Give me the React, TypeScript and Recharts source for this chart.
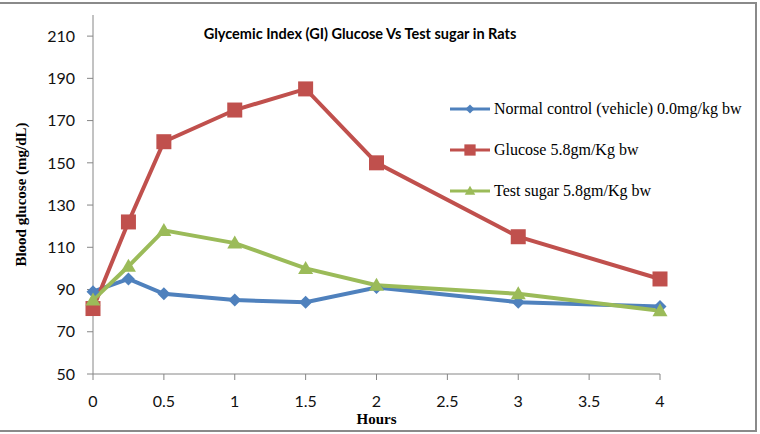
import React from 'react';
import { LineChart, Line, XAxis, YAxis, Legend } from 'recharts';

const hours = [0, 0.25, 0.5, 1, 1.5, 2, 3, 4];
const normalControl = [89, 95, 88, 85, 84, 91, 84, 82];
const glucose = [81, 122, 160, 175, 185, 150, 115, 95];
const testSugar = [85, 101, 118, 112, 100, 92, 88, 80];
const xTicks = [0, 0.5, 1, 1.5, 2, 2.5, 3, 3.5, 4];
const yTicks = [50, 70, 90, 110, 130, 150, 170, 190, 210];
const seriesNames = [
  'Normal control (vehicle) 0.0mg/kg bw',
  'Glucose 5.8gm/Kg bw',
  'Test sugar 5.8gm/Kg bw',
];
const chartTitle = 'Glycemic Index (GI) Glucose Vs Test sugar in Rats';
const xLabel = 'Hours';
const yLabel = 'Blood glucose (mg/dL)';

const data = hours.map((h, i) => ({
  hours: h,
  normal: normalControl[i],
  glucose: glucose[i],
  test: testSugar[i],
}));

const BLUE = '#4F81BD';
const RED = '#C0504D';
const GREEN = '#9BBB59';
const AXIS = '#868686';

const Diamond = ({ cx, cy, color }: any) => {
  const r = 6.5;
  return <path d={`M${cx},${cy - r}L${cx + r},${cy}L${cx},${cy + r}L${cx - r},${cy}Z`} fill={color} />;
};
const Square = ({ cx, cy, color }: any) => {
  const s = 7.5;
  return <rect x={cx - s} y={cy - s} width={2 * s} height={2 * s} fill={color} />;
};
const Triangle = ({ cx, cy, color }: any) => (
  <path d={`M${cx},${cy - 7.5}L${cx + 7.5},${cy + 5.5}L${cx - 7.5},${cy + 5.5}Z`} fill={color} />
);

const series = [
  { key: 'normal', name: seriesNames[0], color: BLUE, Shape: Diamond, legendScale: 0.7 },
  { key: 'glucose', name: seriesNames[1], color: RED, Shape: Square, legendScale: 0.75 },
  { key: 'test', name: seriesNames[2], color: GREEN, Shape: Triangle, legendScale: 0.7 },
];

const renderLegend = () => (
  <div style={{ fontFamily: '"Liberation Serif", "Times New Roman", serif', fontSize: 16, color: '#000' }}>
    {series.map((s) => (
      <div key={s.key} style={{ display: 'flex', alignItems: 'center', height: 41 }}>
        <svg width={40} height={16} style={{ display: 'block' }}>
          <line x1={0} y1={8} x2={40} y2={8} stroke={s.color} strokeWidth={3} />
          <g transform={`translate(20 8) scale(${s.legendScale}) translate(-20 -8)`}>
            <s.Shape cx={20} cy={8} color={s.color} />
          </g>
        </svg>
        <span style={{ marginLeft: 4, whiteSpace: 'nowrap' }}>{s.name}</span>
      </div>
    ))}
  </div>
);

export default function App() {
  return (
    <div style={{ position: 'absolute', left: 0, top: 0, width: 760, height: 434, background: '#fff' }}>
      <div
        style={{
          position: 'absolute',
          left: 0,
          top: 2,
          width: 755,
          height: 426,
          borderTop: '2px solid #8a8a8a',
          borderRight: '2px solid #8a8a8a',
          borderBottom: '2px solid #8a8a8a',
        }}
      />
      <LineChart width={760} height={434} data={data} margin={{ top: 15, right: 100, bottom: 0, left: 0 }}>
        <XAxis
          dataKey="hours"
          type="number"
          domain={[0, 4]}
          ticks={xTicks}
          height={60}
          stroke={AXIS}
          tickSize={6}
          tickMargin={16}
          tick={{ fill: '#111', fontSize: 16, fontFamily: 'Lato, "Open Sans", sans-serif' }}
          label={{
            content: (p: any) => {
              const vb = p.viewBox || { x: 93, width: 567, y: 374 };
              return (
                <text
                  x={vb.x + vb.width / 2}
                  y={424}
                  textAnchor="middle"
                  fontFamily='"Liberation Serif", "Times New Roman", serif'
                  fontWeight="bold"
                  fontSize={15}
                  fill="#000"
                >
                  {xLabel}
                </text>
              );
            },
          }}
        />
        <YAxis
          type="number"
          domain={[50, 220]}
          ticks={yTicks}
          width={93}
          stroke={AXIS}
          tickSize={6}
          tickMargin={12}
          tick={{ fill: '#111', fontSize: 16, fontFamily: 'Lato, "Open Sans", sans-serif' }}
          label={{
            content: (p: any) => {
              const vb = p.viewBox || { y: 15, height: 359 };
              const cy = vb.y + vb.height / 2;
              return (
                <text
                  x={26}
                  y={cy}
                  transform={`rotate(-90 26 ${cy})`}
                  textAnchor="middle"
                  fontFamily='"Liberation Serif", "Times New Roman", serif'
                  fontWeight="bold"
                  fontSize={15}
                  fill="#000"
                >
                  {yLabel}
                </text>
              );
            },
          }}
        />
        <Legend
          layout="vertical"
          align="center"
          verticalAlign="middle"
          content={renderLegend}
          wrapperStyle={{ left: 450, top: 88, width: 310 }}
        />
        {series.map((s) => (
          <Line
            key={s.key}
            type="linear"
            dataKey={s.key}
            name={s.name}
            stroke={s.color}
            strokeWidth={4}
            isAnimationActive={false}
            dot={(props: any) => <s.Shape key={`${s.key}-${props.index}`} cx={props.cx} cy={props.cy} color={s.color} />}
            activeDot={false}
          />
        ))}
      </LineChart>
      <div
        style={{
          position: 'absolute',
          left: 0,
          width: 720,
          top: 25,
          textAlign: 'center',
          fontFamily: 'Lato, "Open Sans", sans-serif',
          fontWeight: 'bold',
          fontSize: 14.5,
          color: '#000',
          whiteSpace: 'nowrap',
        }}
      >
        {chartTitle}
      </div>
    </div>
  );
}
